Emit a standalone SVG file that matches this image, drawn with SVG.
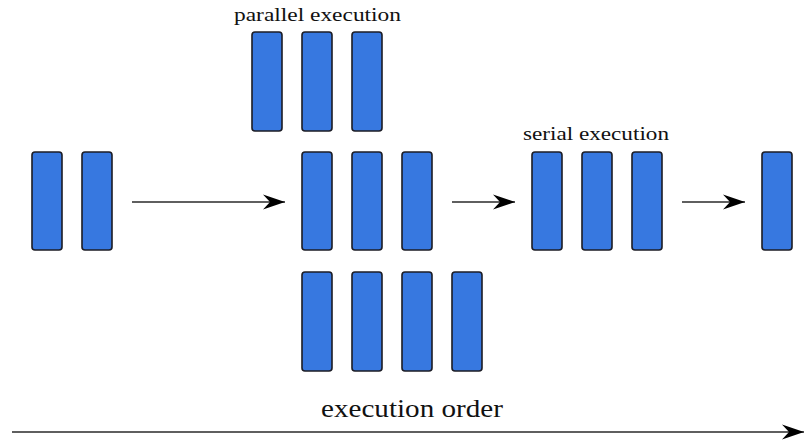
<svg xmlns="http://www.w3.org/2000/svg" width="804" height="441" viewBox="0 0 804 441">
<defs>
<style>
.bar{fill:#3778e0;stroke:#1c1c24;stroke-width:1.6}
.conn{stroke:#2a2a2a;stroke-width:1.6;fill:none;marker-end:url(#ah)}
.lbl{font-family:"Liberation Serif","DejaVu Serif",serif;fill:#111}
</style>
<marker id="ah" viewBox="-23 -9 25 18" refX="0" refY="0" markerWidth="25" markerHeight="18" markerUnits="userSpaceOnUse" orient="auto">
<path d="M0,0 L-22,-7.5 L-15,0 L-22,7.5 Z" fill="#000"/>
</marker>
</defs>
<rect width="804" height="441" fill="#fff"/>
<g id="connectors">
<line class="conn" x1="132" y1="202" x2="285" y2="202"/>
<line class="conn" x1="452" y1="202" x2="515" y2="202"/>
<line class="conn" x1="682" y1="202" x2="745" y2="202"/>
<line class="conn" x1="12" y1="432" x2="804" y2="432"/>
</g>
<g id="input">
<rect class="bar" x="32" y="152" width="30" height="98" rx="3"/>
<rect class="bar" x="82" y="152" width="30" height="98" rx="3"/>
</g>
<g id="parallel">
<text class="lbl" x="234" y="21" font-size="19" textLength="167" lengthAdjust="spacingAndGlyphs">parallel execution</text>
<rect class="bar" x="252" y="32" width="30" height="99" rx="3"/>
<rect class="bar" x="302" y="32" width="30" height="99" rx="3"/>
<rect class="bar" x="352" y="32" width="30" height="99" rx="3"/>
<rect class="bar" x="302" y="152" width="30" height="98" rx="3"/>
<rect class="bar" x="352" y="152" width="30" height="98" rx="3"/>
<rect class="bar" x="402" y="152" width="30" height="98" rx="3"/>
<rect class="bar" x="302" y="272" width="30" height="99" rx="3"/>
<rect class="bar" x="352" y="272" width="30" height="99" rx="3"/>
<rect class="bar" x="402" y="272" width="30" height="99" rx="3"/>
<rect class="bar" x="452" y="272" width="30" height="99" rx="3"/>
</g>
<g id="serial">
<text class="lbl" x="523" y="140" font-size="19" textLength="146" lengthAdjust="spacingAndGlyphs">serial execution</text>
<rect class="bar" x="532" y="152" width="30" height="98" rx="3"/>
<rect class="bar" x="582" y="152" width="30" height="98" rx="3"/>
<rect class="bar" x="632" y="152" width="30" height="98" rx="3"/>
</g>
<g id="output">
<rect class="bar" x="762" y="152" width="30" height="98" rx="3"/>
</g>
<g id="order">
<text class="lbl" x="321" y="417" font-size="25" textLength="182" lengthAdjust="spacingAndGlyphs">execution order</text>
</g>
</svg>
